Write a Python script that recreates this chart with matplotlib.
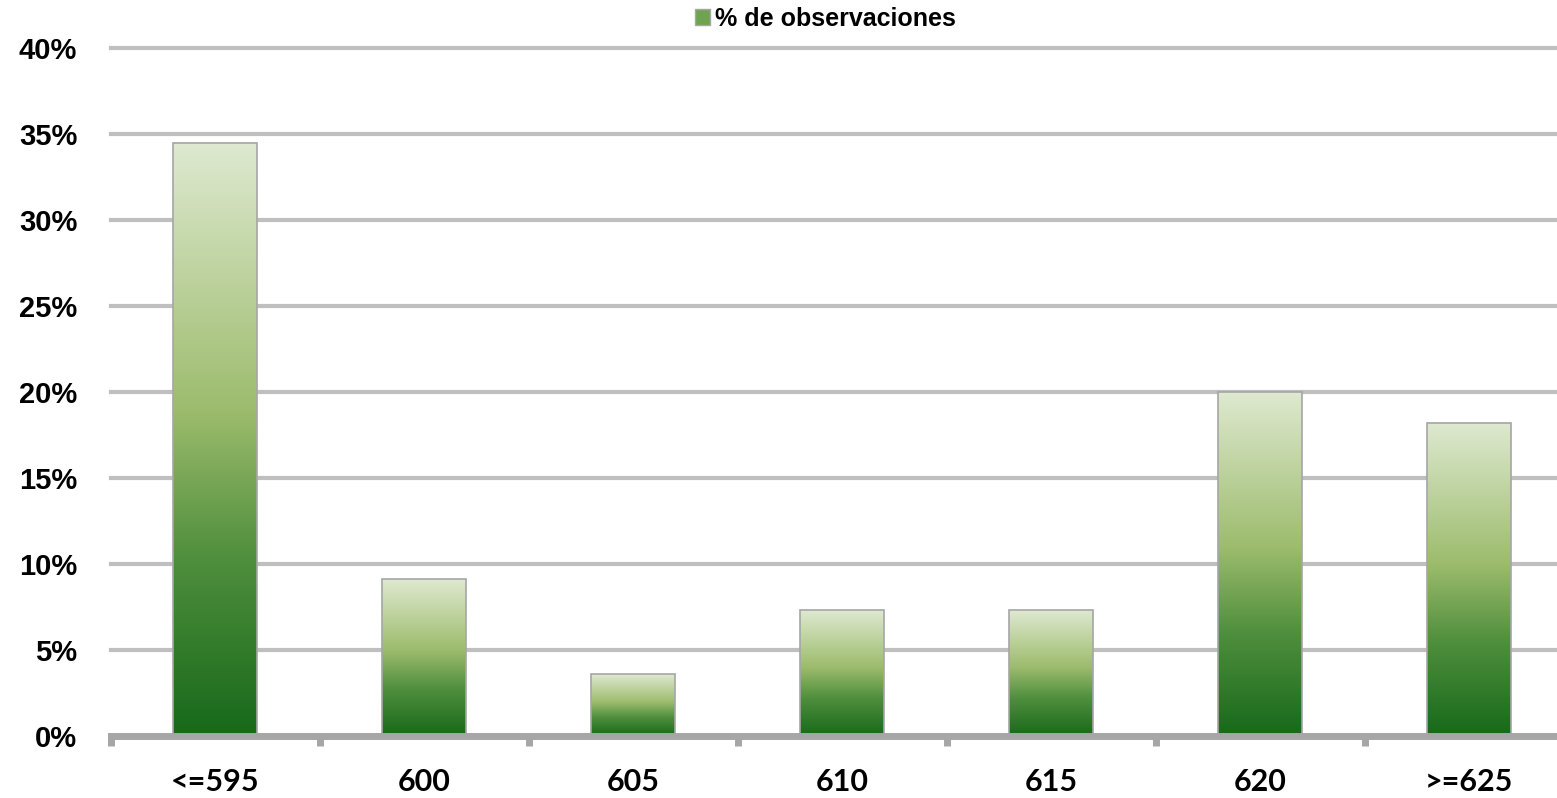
import matplotlib
matplotlib.use("Agg")
import matplotlib.pyplot as plt
from matplotlib.colors import LinearSegmentedColormap
from matplotlib.patches import Patch
import numpy as np

categories = ["<=595", "600", "605", "610", "615", "620", ">=625"]
values = [34.5, 9.1, 3.6, 7.3, 7.3, 20.0, 18.2]
yticks = [0, 5, 10, 15, 20, 25, 30, 35, 40]

green = LinearSegmentedColormap.from_list(
    "grn", [(0.0, "#17691a"), (0.3, "#4f8f3d"), (0.55, "#9dbc6d"), (1.0, "#dee9d0")])

fig = plt.figure(figsize=(15.57, 7.98), dpi=100)
ax = fig.add_axes([110.5 / 1557, 1 - 736 / 798, (1573.5 - 110.5) / 1557, (736 - 48) / 798])

x = np.arange(len(categories))
w = 0.40
grad = np.linspace(0, 1, 256).reshape(-1, 1)
for xi, v in zip(x, values):
    ax.imshow(grad, extent=[xi - w / 2, xi + w / 2, 0, v], origin="lower",
              aspect="auto", cmap=green, zorder=3)
ax.bar(x, values, width=w, facecolor="none", edgecolor="#a6a6a6", linewidth=1.2, zorder=4)

ax.set_xlim(-0.5, len(categories) - 0.5)
ax.set_ylim(0, 40)
ax.set_yticks(yticks)
ax.set_yticklabels([f"{t}%" for t in yticks], fontsize=21, fontweight="bold",
                   family="Liberation Sans")
ax.yaxis.grid(True, color="#bfbfbf", linewidth=3)
for gl in ax.get_ygridlines():
    gl.set_clip_on(False)
ax.set_axisbelow(True)

ax.set_xticks(x)
ax.set_xticklabels(categories, fontsize=22, fontweight="bold", family="Lato")
ax.set_xticks(np.arange(len(categories) + 1) - 0.5, minor=True)
ax.tick_params(axis="x", which="major", length=0, pad=23)
ax.tick_params(axis="x", which="minor", length=7, width=5, color="#a6a6a6", direction="out")
ax.tick_params(axis="y", length=0, pad=24)

for s in ["top", "right", "left"]:
    ax.spines[s].set_visible(False)
ax.spines["bottom"].set_color("#a6a6a6")
ax.spines["bottom"].set_linewidth(5)
ax.spines["bottom"].set_zorder(5)

handle = Patch(facecolor="#6fa34f", edgecolor="#a6a6a6")
fig.legend([handle], ["% de observaciones"], loc="center", bbox_to_anchor=(825 / 1557, 1 - 19 / 798),
           frameon=False, prop={"family": "Liberation Sans", "weight": "bold", "size": 18},
           handlelength=0.6, handleheight=0.6, handletextpad=0.2)

fig.savefig("out.png", dpi=100)
